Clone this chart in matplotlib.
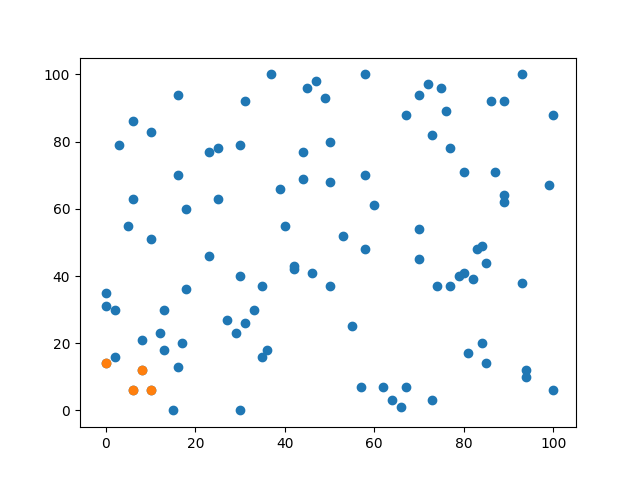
import matplotlib
matplotlib.use("Agg")
import matplotlib.pyplot as plt

# all points
x_all = [93, 37, 58, 47, 45, 75, 72, 16, 49, 70, 86, 89, 31, 76, 67, 100,
         6, 10, 73, 50, 3, 30, 77, 25, 23, 44, 80, 87, 16, 58, 44, 50,
         99, 39, 89, 89, 6, 25, 60, 18, 5, 40, 70, 53, 10, 84, 83, 58,
         23, 85, 70, 42, 42, 46, 80, 79, 30, 82, 93, 74, 77, 35, 50, 18,
         0, 0, 2, 13, 33, 27, 31, 55, 12, 29, 8, 17, 84, 13, 36, 2,
         35, 81, 16, 85, 94, 94, 57, 62, 67, 64, 73, 66, 100, 15, 30,
         0, 8, 6, 10]
y_all = [100, 100, 100, 98, 96, 96, 97, 94, 93, 94, 92, 92, 92, 89, 88, 88,
         86, 83, 82, 80, 79, 79, 78, 78, 77, 77, 71, 71, 70, 70, 69, 68,
         67, 66, 64, 62, 63, 63, 61, 60, 55, 55, 54, 52, 51, 49, 48, 48,
         46, 44, 45, 43, 42, 41, 41, 40, 40, 39, 38, 37, 37, 37, 37, 36,
         35, 31, 30, 30, 30, 27, 26, 25, 23, 23, 21, 20, 20, 18, 18, 16,
         16, 17, 13, 14, 12, 10, 7, 7, 7, 3, 3, 1, 6, 0, 0,
         14, 12, 6, 6]

# highlighted subset
x_hl = [0, 8, 6, 10]
y_hl = [14, 12, 6, 6]

plt.figure(figsize=(6.4, 4.8), dpi=100)
plt.scatter(x_all, y_all)
plt.scatter(x_hl, y_hl)
plt.xlim(-5.8, 105.1)
plt.savefig("out.png")
plt.close()
